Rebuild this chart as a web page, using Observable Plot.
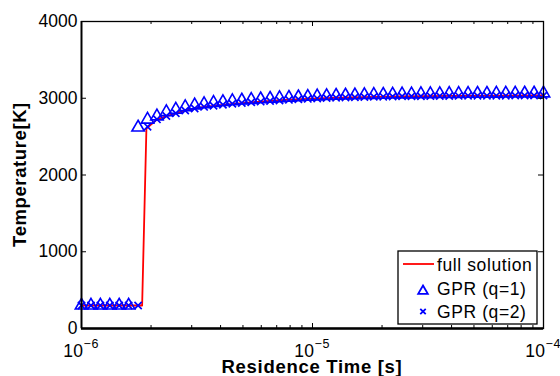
<!DOCTYPE html>
<html>
<head>
<meta charset="utf-8">
<script src="https://cdn.jsdelivr.net/npm/d3@7"></script>
<script src="https://cdn.jsdelivr.net/npm/@observablehq/plot@0.6"></script>
<style>
  html, body { margin: 0; padding: 0; background: white; }
</style>
</head>
<body>
<div id="chart"></div>
<script>
// ---- data ----
const sampleTimes = [
  1.000e-6, 1.099e-6, 1.207e-6, 1.326e-6, 1.456e-6, 1.600e-6, 1.758e-6, 1.931e-6, 2.121e-6, 2.330e-6,
  2.560e-6, 2.812e-6, 3.089e-6, 3.393e-6, 3.728e-6, 4.095e-6, 4.498e-6, 4.942e-6, 5.429e-6, 5.964e-6,
  6.551e-6, 7.197e-6, 7.906e-6, 8.685e-6, 9.541e-6, 1.048e-5, 1.151e-5, 1.265e-5, 1.389e-5, 1.526e-5,
  1.677e-5, 1.842e-5, 2.024e-5, 2.223e-5, 2.442e-5, 2.683e-5, 2.947e-5, 3.237e-5, 3.556e-5, 3.907e-5,
  4.292e-5, 4.715e-5, 5.179e-5, 5.690e-5, 6.250e-5, 6.866e-5, 7.543e-5, 8.286e-5, 9.103e-5, 1.000e-4
];
const gprQ1 = [
  300, 300, 300, 300, 300, 300, 2620, 2722, 2765, 2820,
  2852, 2885, 2908, 2925, 2940, 2952, 2963, 2972, 2980, 2988,
  2995, 3002, 3008, 3014, 3020, 3025, 3030, 3034, 3037, 3040,
  3043, 3045, 3047, 3049, 3051, 3052, 3054, 3055, 3056, 3057,
  3058, 3059, 3060, 3060, 3061, 3062, 3062, 3063, 3063, 3064
];
const gprQ2 = [
  300, 300, 300, 300, 300, 300, 300, 2630, 2725, 2768,
  2805, 2840, 2866, 2888, 2903, 2915, 2928, 2938, 2947, 2956,
  2964, 2972, 2979, 2986, 2992, 2998, 3003, 3007, 3011, 3014,
  3017, 3019, 3021, 3023, 3025, 3026, 3027, 3028, 3029, 3030,
  3031, 3032, 3033, 3033, 3034, 3034, 3035, 3035, 3036, 3036
];
const fullTimes = [1.0e-6, 1.83e-6, 1.91e-6, 2.13e-6, 2.36e-6, 2.63e-6, 2.96e-6, 3.34e-6, 4.12e-6, 5.39e-6, 7.27e-6, 1.05e-5, 1.46e-5, 2.41e-5, 3.96e-5, 1.0e-4];
const fullTemps = [300, 300, 2605, 2728, 2770, 2815, 2855, 2885, 2915, 2946, 2975, 2998, 3012, 3024, 3030, 3036];

const yTicks = [0, 1000, 2000, 3000, 4000];
const majorXTicks = [1e-6, 1e-5, 1e-4];
const majorXExponents = ["−6", "−5", "−4"];
const minorXTicks = [2e-6, 3e-6, 4e-6, 5e-6, 6e-6, 7e-6, 8e-6, 9e-6, 2e-5, 3e-5, 4e-5, 5e-5, 6e-5, 7e-5, 8e-5, 9e-5];
const xTitle = "Residence Time [s]";
const yTitle = "Temperature[K]";
const seriesNames = ["full solution", "GPR (q=1)", "GPR (q=2)"];

// ---- tables built from arrays ----
const fullData = fullTimes.map((t, i) => ({t, T: fullTemps[i]}));
const q1Data = sampleTimes.map((t, i) => ({t, T: gprQ1[i]}));
const q2Data = sampleTimes.map((t, i) => ({t, T: gprQ2[i]}));

const W = 560, H = 376;
const mL = 81, mR = 17, mT = 21, mB = 48;
const fw = W - mL - mR, fh = H - mT - mB;
const FONT = "'Liberation Sans', Arial, Helvetica, sans-serif";
const BLUE = "#0000ff", RED = "#ff0000";

function decorations(index, scales, values, dims) {
  const g = d3.create("svg:g").attr("font-family", FONT).attr("fill", "black").attr("text-anchor", "start");
  const bottom = dims.height - dims.marginBottom;
  const right = dims.width - dims.marginRight;
  // x tick labels 10^n
  majorXTicks.forEach((t, i) => {
    const txt = g.append("text")
      .attr("x", scales.x(t)).attr("y", bottom + 29)
      .attr("text-anchor", "middle").attr("font-size", 17.5).attr("letter-spacing", 0.5);
    txt.append("tspan").text("10");
    txt.append("tspan").attr("dy", -9.5).attr("font-size", 12.5).text(majorXExponents[i]);
  });
  // axis titles
  g.append("text")
    .attr("x", (dims.marginLeft + right) / 2).attr("y", bottom + 44.5)
    .attr("text-anchor", "middle").attr("font-weight", "bold")
    .attr("font-size", 18.5).attr("letter-spacing", 0.7).text(xTitle);
  g.append("text")
    .attr("transform", `translate(26,${(dims.marginTop + bottom) / 2}) rotate(-90)`)
    .attr("text-anchor", "middle").attr("font-weight", "bold")
    .attr("font-size", 18.5).attr("letter-spacing", 0.6).text(yTitle);
  // legend
  const bx1 = right - 6, by1 = bottom - 4, bx0 = bx1 - 139, by0 = by1 - 73;
  const lg = g.append("g");
  lg.append("rect").attr("x", bx0).attr("y", by0).attr("width", bx1 - bx0).attr("height", by1 - by0)
    .attr("fill", "white").attr("stroke", "black").attr("stroke-width", 1.3);
  const rows = [by0 + 13, by0 + 39.5, by0 + 60.5];
  const baselines = [by0 + 19.5, by0 + 44, by0 + 67];
  lg.append("line").attr("x1", bx0 + 5).attr("x2", bx0 + 36).attr("y1", rows[0]).attr("y2", rows[0])
    .attr("stroke", RED).attr("stroke-width", 1.8);
  lg.append("path").attr("transform", `translate(${bx0 + 25},${rows[1] + 0.5})`)
    .attr("d", d3.symbol(d3.symbolTriangle2, Math.PI * 4.6 * 4.6)())
    .attr("fill", "none").attr("stroke", BLUE).attr("stroke-width", 1.8);
  lg.append("path").attr("transform", `translate(${bx0 + 25},${rows[2]})`)
    .attr("d", d3.symbol(d3.symbolTimes, Math.PI * 2.6 * 2.6)())
    .attr("fill", "none").attr("stroke", BLUE).attr("stroke-width", 1.8);
  seriesNames.forEach((name, i) => {
    lg.append("text").attr("x", bx0 + 39).attr("y", baselines[i])
      .attr("text-anchor", "start")
      .attr("font-size", 17.5).attr("letter-spacing", 0.6).text(name);
  });
  return g.node();
}

const chart = Plot.plot({
  width: W, height: H,
  marginLeft: mL, marginRight: mR, marginTop: mT, marginBottom: mB,
  x: {type: "log", domain: [1e-6, 1e-4], axis: null},
  y: {domain: [0, 4000], axis: null},
  style: {fontFamily: FONT, fontSize: "17.5px", color: "black", background: "white", overflow: "visible"},
  marks: [
    Plot.line(fullData, {x: "t", y: "T", stroke: RED, strokeWidth: 1.8}),
    Plot.dot(q2Data, {x: "t", y: "T", symbol: "times", r: 3.4, stroke: BLUE, strokeWidth: 1.7}),
    Plot.dot(q1Data, {x: "t", y: "T", symbol: "triangle", r: 4.6, stroke: BLUE, strokeWidth: 1.6, fill: "none"}),
    // inward ticks
    Plot.tickX(minorXTicks, {x: d => d, insetTop: fh - 3, stroke: "black", strokeWidth: 1}),
    Plot.tickX(minorXTicks, {x: d => d, insetBottom: fh - 3, stroke: "black", strokeWidth: 1}),
    Plot.tickX(majorXTicks, {x: d => d, insetTop: fh - 5, stroke: "black", strokeWidth: 1}),
    Plot.tickX(majorXTicks, {x: d => d, insetBottom: fh - 5, stroke: "black", strokeWidth: 1}),
    Plot.tickY(yTicks, {y: d => d, insetRight: fw - 5, stroke: "black", strokeWidth: 1}),
    Plot.tickY(yTicks, {y: d => d, insetLeft: fw - 5, stroke: "black", strokeWidth: 1}),
    Plot.frame({stroke: "black", strokeWidth: 1.3}),
    Plot.ruleY([0], {stroke: "black", strokeWidth: 2.4}),
    Plot.ruleX([1e-6], {stroke: "black", strokeWidth: 1.8}),
    Plot.axisY({ticks: yTicks, tickSize: 0, tickPadding: 4, tickFormat: d => String(d), label: null, fontSize: 17.5}),
    decorations
  ]
});
document.getElementById("chart").appendChild(chart);
</script>
</body>
</html>
